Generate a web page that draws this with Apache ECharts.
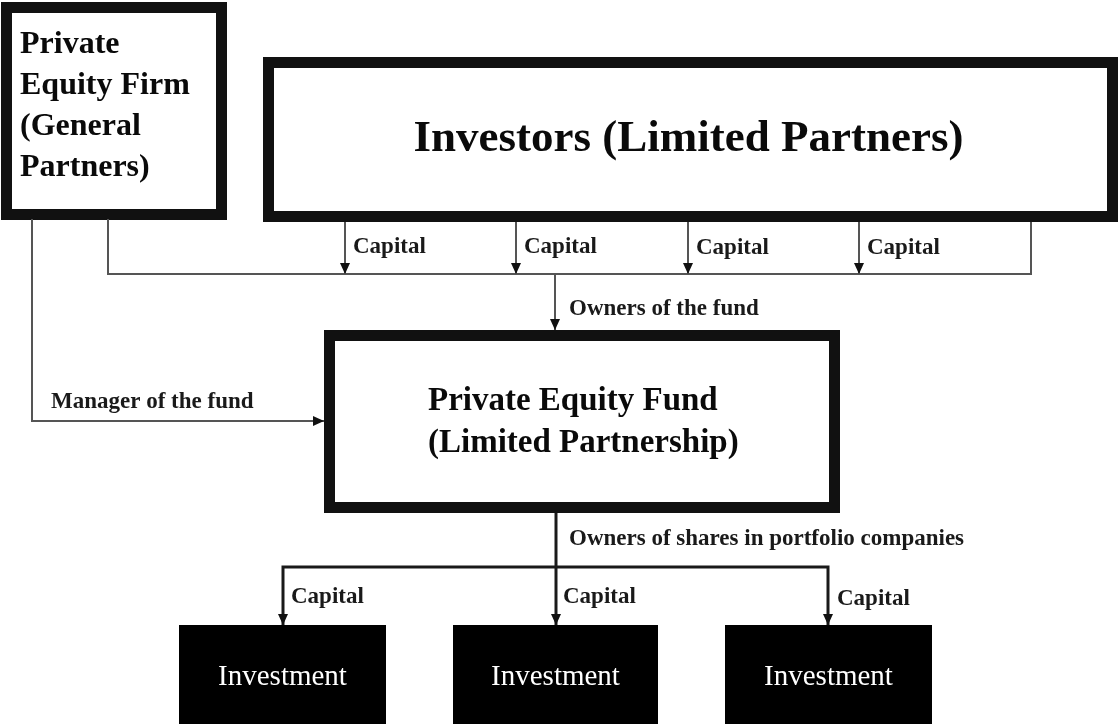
<!DOCTYPE html>
<html>
<head>
<meta charset="utf-8">
<script src="https://cdn.jsdelivr.net/npm/echarts@6/dist/echarts.min.js"></script>
<style>
  html, body { margin: 0; padding: 0; background: #fff; }
  #main { width: 1118px; height: 724px; }
</style>
</head>
<body>
<div id="main"></div>
<script>
// diagram nodes, in the picture's own units (x right, y down)
const boxText = [
  'Private\nEquity Firm\n(General\nPartners)',
  'Investors (Limited Partners)',
  'Private Equity Fund\n(Limited Partnership)',
  'Investment',
  'Investment',
  'Investment'
];
const boxLeft = [1, 263, 324, 179, 453, 725];
const boxTop = [2, 57, 330, 625, 625, 625];
const boxRight = [227, 1118, 840, 386, 658, 932];
const boxBottom = [220, 222, 513, 730, 730, 730];
const boxFilled = [false, false, false, true, true, true];

// connectors: list of points, arrow on the last point or not
const linkPaths = [
  [[32, 219], [32, 421], [324, 421]],
  [[108, 219], [108, 274], [1031, 274], [1031, 222]],
  [[345, 222], [345, 274]],
  [[516, 222], [516, 274]],
  [[688, 222], [688, 274]],
  [[859, 222], [859, 274]],
  [[555, 274], [555, 330]],
  [[556, 513], [556, 625]],
  [[556, 567], [283, 567], [283, 625]],
  [[556, 567], [828, 567], [828, 625]]
];
const linkArrow = [true, false, true, true, true, true, true, true, true, true];
const linkHeavy = [false, false, false, false, false, false, false, true, true, true];

// edge notes
const noteText = ['Capital', 'Capital', 'Capital', 'Capital', 'Owners of the fund',
  'Manager of the fund', 'Owners of shares in portfolio companies', 'Capital', 'Capital', 'Capital'];
const noteX = [353, 524, 696, 867, 569, 51, 569, 291, 563, 837];
const noteY = [247, 247, 248, 248, 309, 402, 539, 597, 597, 599];

const serif = '"Liberation Serif", "DejaVu Serif", serif';

const chart = echarts.init(document.getElementById('main'));
chart.setOption({
  animation: false,
  backgroundColor: '#fff',
  grid: { left: 0, right: 0, top: 0, bottom: 0 },
  xAxis: { type: 'value', min: 0, max: 1118, show: false },
  yAxis: { type: 'value', min: 0, max: 724, inverse: true, show: false },
  series: [
    {
      // boxes
      type: 'custom',
      clip: false,
      data: boxText.map((t, i) => [boxLeft[i], boxTop[i], boxRight[i], boxBottom[i]]),
      renderItem: function (params, api) {
        const i = params.dataIndex;
        const a = api.coord([api.value(0), api.value(1)]);
        const b = api.coord([api.value(2), api.value(3)]);
        const filled = boxFilled[i];
        const lw = filled ? 0 : 11;
        const rect = {
          type: 'rect',
          shape: { x: a[0] + lw / 2, y: a[1] + lw / 2, width: b[0] - a[0] - lw, height: b[1] - a[1] - lw },
          style: { fill: filled ? '#000' : '#fff', stroke: '#111', lineWidth: lw }
        };
        let text;
        if (i === 0) {
          text = {
            type: 'text', x: a[0] + 19, y: a[1] + 104,
            style: { text: boxText[i], fill: '#0a0a0a', fontFamily: serif, fontWeight: 'bold', fontSize: 32,
              lineHeight: 41, align: 'left', verticalAlign: 'middle' }
          };
        } else if (filled) {
          text = {
            type: 'text', x: (a[0] + b[0]) / 2, y: a[1] + 52,
            style: { text: boxText[i], fill: '#fff', fontFamily: serif, fontSize: 29,
              align: 'center', verticalAlign: 'middle' }
          };
        } else if (i === 2) {
          text = {
            type: 'text', x: a[0] + 104, y: (a[1] + b[1]) / 2 + 1,
            style: { text: boxText[i], fill: '#0a0a0a', fontFamily: serif, fontWeight: 'bold',
              fontSize: 33, lineHeight: 42, align: 'left', verticalAlign: 'middle' }
          };
        } else {
          text = {
            type: 'text', x: (a[0] + b[0]) / 2 - 2, y: (a[1] + b[1]) / 2,
            style: { text: boxText[i], fill: '#0a0a0a', fontFamily: serif, fontWeight: 'bold',
              fontSize: 45, align: 'center', verticalAlign: 'middle' }
          };
        }
        return { type: 'group', children: [rect, text] };
      }
    },
    {
      // connectors
      type: 'custom',
      clip: false,
      data: linkPaths.map(p => p[0]),
      renderItem: function (params, api) {
        const i = params.dataIndex;
        const pts = linkPaths[i].map(p => api.coord(p));
        const heavy = linkHeavy[i];
        const color = heavy ? '#1a1a1a' : '#555';
        const children = [{
          type: 'polyline',
          shape: { points: pts },
          style: { stroke: color, lineWidth: heavy ? 3 : 2, fill: null }
        }];
        if (linkArrow[i]) {
          const tip = pts[pts.length - 1];
          const prev = pts[pts.length - 2];
          const len = Math.hypot(tip[0] - prev[0], tip[1] - prev[1]);
          const ux = (tip[0] - prev[0]) / len, uy = (tip[1] - prev[1]) / len;
          const L = 11, W = 5;
          children.push({
            type: 'polygon',
            shape: { points: [
              tip,
              [tip[0] - ux * L - uy * W, tip[1] - uy * L + ux * W],
              [tip[0] - ux * L + uy * W, tip[1] - uy * L - ux * W]
            ] },
            style: { fill: '#111' }
          });
        }
        return { type: 'group', children: children };
      }
    },
    {
      // notes
      type: 'custom',
      clip: false,
      data: noteText.map((t, i) => [noteX[i], noteY[i]]),
      renderItem: function (params, api) {
        const p = api.coord([api.value(0), api.value(1)]);
        return {
          type: 'text', x: p[0], y: p[1],
          style: { text: noteText[params.dataIndex], fill: '#1a1a1a', fontFamily: serif,
            fontWeight: 'bold', fontSize: 23, align: 'left', verticalAlign: 'middle' }
        };
      }
    }
  ]
});
</script>
</body>
</html>
